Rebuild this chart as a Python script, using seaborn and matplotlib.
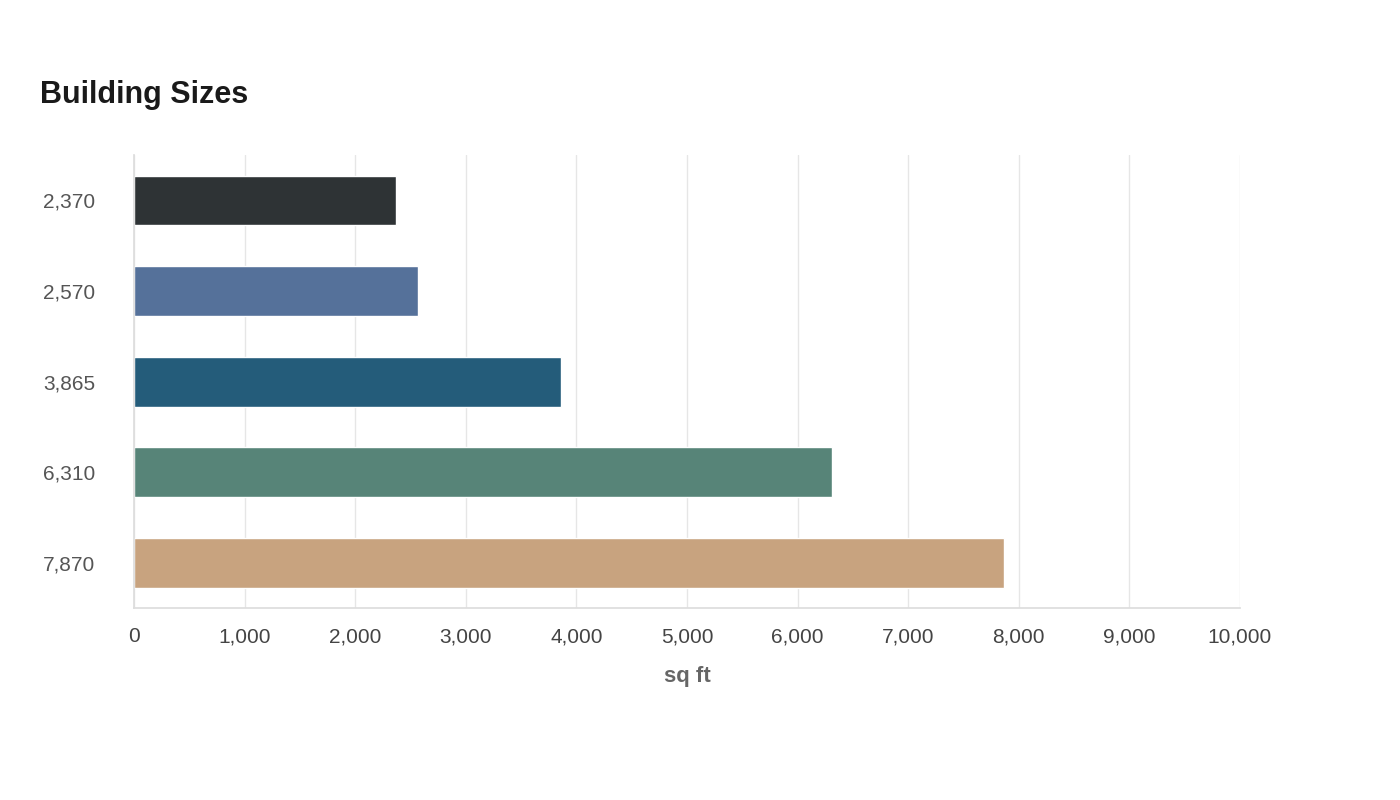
import matplotlib
matplotlib.use("Agg")
import matplotlib.pyplot as plt
import seaborn as sns
import pandas as pd

labels = ["2,370", "2,570", "3,865", "6,310", "7,870"]
values = [2370, 2570, 3865, 6310, 7870]
colors = ["#2d3436", "#4a6fa5", "#166088", "#4f8c7b", "#d4a373"]
xticks = list(range(0, 10001, 1000))

sns.set_theme(style="white")
plt.rcParams['font.family'] = ['Liberation Sans', 'DejaVu Sans']

df = pd.DataFrame({"label": labels, "value": values})
fig = plt.figure(figsize=(14, 8), dpi=100)
ax = fig.add_axes([0.0957, 0.24, 0.79, 0.566])
sns.barplot(data=df, x="value", y="label", hue="label", palette=colors,
            legend=False, width=0.55, ax=ax, orient="h")
ax.set_xlim(0, 10000)
ax.set_xticks(xticks)
ax.set_xticklabels([f"{t:,}" for t in xticks], fontsize=15, color="#444444")
ax.tick_params(axis="y", labelsize=15, labelcolor="#555555", length=0, pad=28)
ax.tick_params(axis="x", length=6, color="#dddddd", pad=8)
ax.grid(axis="x", color="#e6e6e6", linewidth=1)
ax.set_axisbelow(True)
for s in ["top", "right"]:
    ax.spines[s].set_visible(False)
for s in ["left", "bottom"]:
    ax.spines[s].set_color("#dddddd")
ax.set_ylabel("")
ax.set_xlabel("sq ft", fontsize=16, fontweight="bold", color="#666666", labelpad=14)
fig.text(40/1400, 1-95/800, "Building Sizes", fontsize=22, fontweight="bold",
         color="#1a1a1a", va="center")
fig.savefig("out.png", dpi=100)
